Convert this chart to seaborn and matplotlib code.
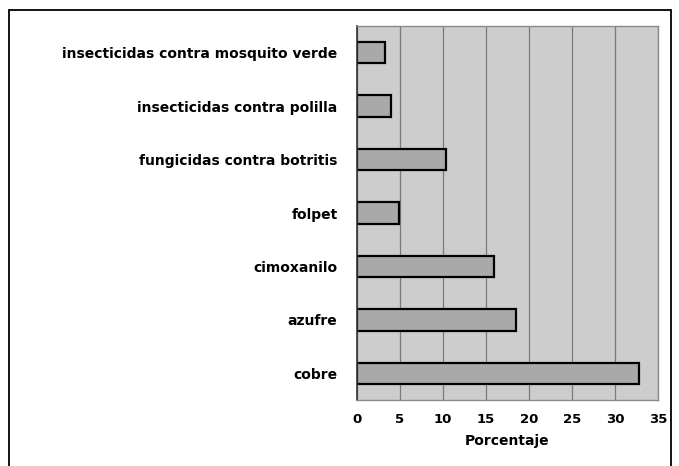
import matplotlib
matplotlib.use("Agg")
import matplotlib.pyplot as plt
import seaborn as sns
import pandas as pd
from matplotlib.patches import Rectangle

# Tratamientos y porcentaje de uso
tratamientos = [
    "insecticidas contra mosquito verde",
    "insecticidas contra polilla",
    "fungicidas contra botritis",
    "folpet",
    "cimoxanilo",
    "azufre",
    "cobre",
]
porcentaje = [3.3, 4.0, 10.4, 4.9, 15.9, 18.5, 32.8]
xticks = [0, 5, 10, 15, 20, 25, 30, 35]

df = pd.DataFrame({"tratamiento": tratamientos, "porcentaje": porcentaje})

sns.set_theme(style="white")
plt.rcParams["font.family"] = ["DejaVu Sans"]
plt.rcParams["text.color"] = "black"
plt.rcParams["axes.labelcolor"] = "black"
plt.rcParams["xtick.color"] = "black"
plt.rcParams["ytick.color"] = "black"

fig = plt.figure(figsize=(6.79, 4.66), dpi=100)
ax = fig.add_axes([0.5258, 0.1416, 0.4433, 0.8026])

ax.set_facecolor("#cdcdcd")
sns.barplot(data=df, x="porcentaje", y="tratamiento", orient="h",
            color="#a9a9a9", edgecolor="black", linewidth=1.6,
            width=0.4, saturation=1, ax=ax)

ax.set_xlim(0, 35)
ax.set_xticks(xticks)
ax.set_xticklabels([str(t) for t in xticks], fontsize=9.5, fontweight="bold")
ax.xaxis.grid(True, color="#7a7a7a", linewidth=0.9)
ax.yaxis.grid(False)
ax.set_axisbelow(True)
ax.set_ylabel("")
ax.set_xlabel("Porcentaje", fontsize=10, fontweight="bold", labelpad=6)
ax.tick_params(axis="y", length=0, pad=14)
ax.tick_params(axis="x", length=0, pad=9)
for lbl in ax.get_yticklabels():
    lbl.set_fontsize(10)
    lbl.set_fontweight("bold")

for side in ["top", "right", "bottom"]:
    ax.spines[side].set_color("#8a8a8a")
    ax.spines[side].set_linewidth(1.0)
ax.spines["left"].set_color("#333333")
ax.spines["left"].set_linewidth(1.2)

# marco de la figura
fig.patches.append(Rectangle((9 / 679, -0.05), 662 / 679, 1 - 10 / 466 + 0.05,
                             transform=fig.transFigure, fill=False,
                             edgecolor="black", linewidth=1.3))

fig.savefig("out.png", dpi=100, facecolor="white")
